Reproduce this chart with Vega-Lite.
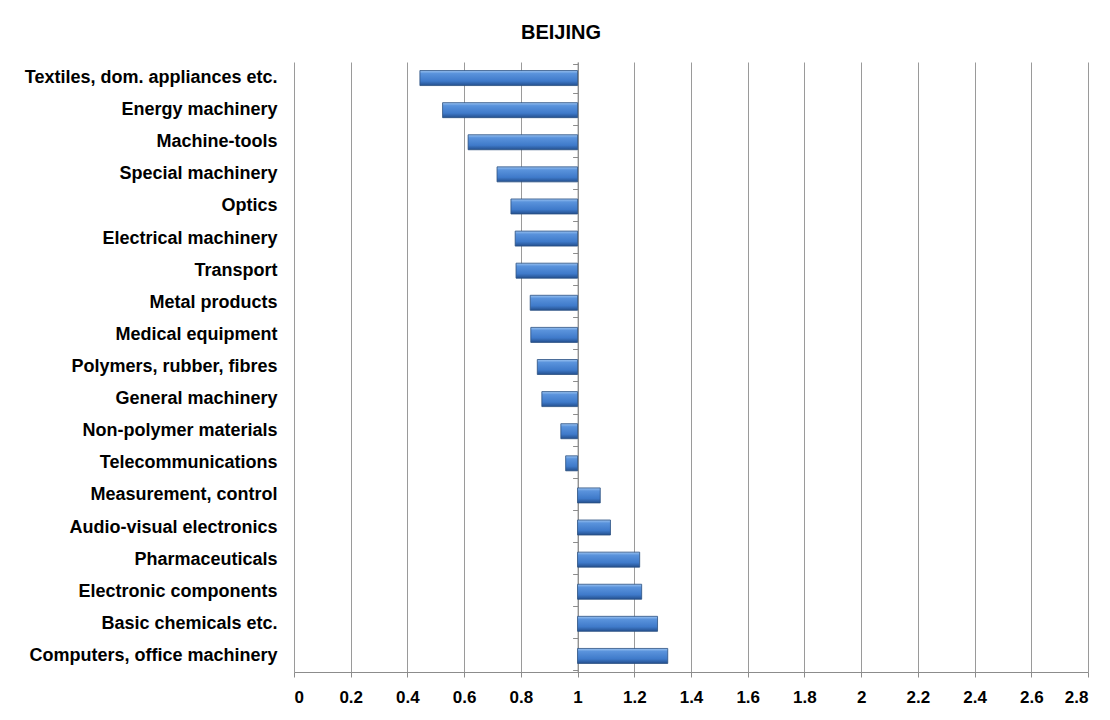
{
  "$schema": "https://vega.github.io/schema/vega-lite/v6.json",
  "autosize": "none",
  "width": 794,
  "height": 610,
  "padding": {"left": 294, "top": 62, "right": 22, "bottom": 48},
  "background": "white",
  "config": {
    "view": {"stroke": null},
    "font": "Liberation Sans"
  },
  "title": {
    "text": "BEIJING",
    "font": "Liberation Sans",
    "fontSize": 20,
    "fontWeight": "bold",
    "color": "#000000",
    "anchor": "middle",
    "dx": -130,
    "offset": 19
  },
  "data": {
    "values": [
      {"sector": "Textiles, dom. appliances etc.", "value": 0.444},
      {"sector": "Energy machinery", "value": 0.524},
      {"sector": "Machine-tools", "value": 0.614},
      {"sector": "Special machinery", "value": 0.716},
      {"sector": "Optics", "value": 0.765},
      {"sector": "Electrical machinery", "value": 0.780},
      {"sector": "Transport", "value": 0.783},
      {"sector": "Metal products", "value": 0.833},
      {"sector": "Medical equipment", "value": 0.835},
      {"sector": "Polymers, rubber, fibres", "value": 0.858},
      {"sector": "General machinery", "value": 0.874},
      {"sector": "Non-polymer materials", "value": 0.941},
      {"sector": "Telecommunications", "value": 0.958},
      {"sector": "Measurement, control", "value": 1.080},
      {"sector": "Audio-visual electronics", "value": 1.116},
      {"sector": "Pharmaceuticals", "value": 1.219},
      {"sector": "Electronic components", "value": 1.226},
      {"sector": "Basic chemicals etc.", "value": 1.282},
      {"sector": "Computers, office machinery", "value": 1.318}
    ]
  },
  "layer": [
    {
      "mark": {"type": "bar", "opacity": 0},
      "encoding": {
        "y": {
          "field": "sector",
          "type": "nominal",
          "sort": null,
          "axis": {
            "title": null,
            "domain": false,
            "ticks": false,
            "labelPadding": 17,
            "labelFont": "Liberation Sans",
            "labelFontSize": 18,
            "labelFontWeight": "bold",
            "labelColor": "#000000",
            "labelLimit": 400
          }
        },
        "x": {
          "field": "value",
          "type": "quantitative",
          "scale": {"domain": [0, 2.8], "nice": false, "zero": false},
          "axis": {
            "title": null,
            "values": [0, 0.2, 0.4, 0.6, 0.8, 1, 1.2, 1.4, 1.6, 1.8, 2, 2.2, 2.4, 2.6, 2.8],
            "format": "~g",
            "grid": true,
            "gridColor": "#9a9a9a",
            "gridWidth": 1,
            "domainColor": "#8c8c8c",
            "tickColor": "#8c8c8c",
            "tickSize": 5,
            "labelPadding": 12,
            "labelFont": "Liberation Sans",
            "labelFontSize": 17,
            "labelFontWeight": "bold",
            "labelColor": "#000000"
          }
        },
        "x2": {"datum": 1}
      }
    },
    {
      "mark": {
        "type": "bar",
        "size": 15,
        "stroke": "#2a4f80",
        "strokeWidth": 0.8,
        "color": {
          "gradient": "linear",
          "x1": 0, "y1": 0, "x2": 0, "y2": 1,
          "stops": [
            {"offset": 0, "color": "#9cc4f2"},
            {"offset": 0.2, "color": "#5a93dc"},
            {"offset": 0.7, "color": "#3f7aca"},
            {"offset": 1, "color": "#24508e"}
          ]
        }
      },
      "encoding": {
        "y": {
          "field": "sector",
          "type": "nominal",
          "sort": null,
          "axis": {
            "orient": "left",
            "offset": -283.6,
            "title": null,
            "labels": false,
            "grid": false,
            "domain": true,
            "domainColor": "#8c8c8c",
            "ticks": true,
            "tickBand": "extent",
            "tickColor": "#8c8c8c",
            "tickSize": 5
          }
        },
        "x": {
          "field": "value",
          "type": "quantitative",
          "scale": {"domain": [0, 2.8], "nice": false, "zero": false},
          "axis": null
        },
        "x2": {"datum": 1}
      }
    }
  ],
  "resolve": {"axis": {"y": "independent", "x": "independent"}}
}
